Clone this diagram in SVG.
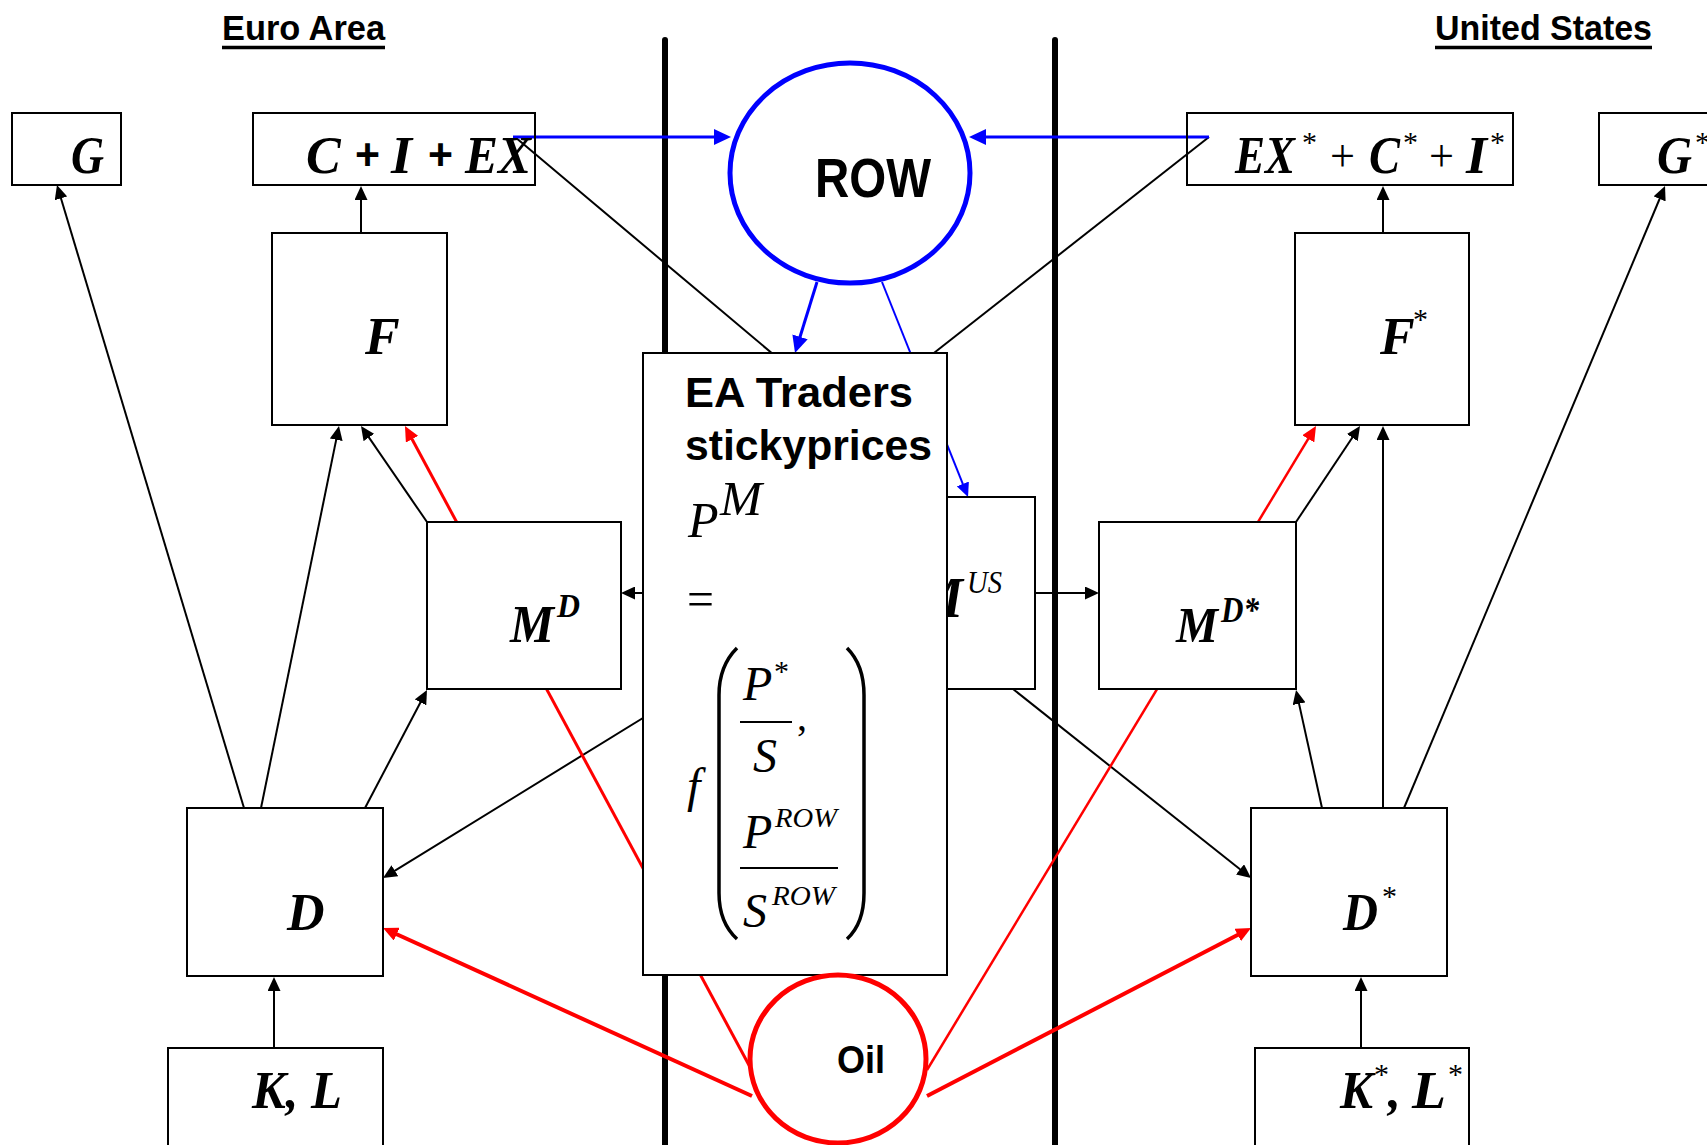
<svg xmlns="http://www.w3.org/2000/svg" width="1707" height="1145" viewBox="0 0 1707 1145">
<style>
.box{fill:#fff;stroke:#000;stroke-width:2}
.open{fill:none;stroke:#000;stroke-width:2}
.m{font-family:"Liberation Serif","Times New Roman",serif;font-weight:bold;font-style:italic;fill:#000}
.mi{font-family:"Liberation Serif","Times New Roman",serif;font-style:italic;fill:#000}
.r{font-family:"Liberation Serif","Times New Roman",serif;fill:#000}
.s{font-family:"Liberation Sans",Arial,sans-serif;font-weight:bold;fill:#000}
.k{stroke:#000;stroke-width:2;fill:none}
.b{stroke:#0000FF;fill:none}
.red{stroke:#FF0000;fill:none}
.sep{stroke:#000;stroke-width:6;stroke-linecap:round}
</style>
<defs>
<marker id="ak" markerUnits="userSpaceOnUse" markerWidth="14" markerHeight="13" refX="8" refY="6.5" orient="auto"><path d="M0,0 L14,6.5 L0,13 z" fill="#000"/></marker>
<marker id="abig" markerUnits="userSpaceOnUse" markerWidth="17" markerHeight="16" refX="11" refY="8" orient="auto"><path d="M0,0 L17,8 L0,16 z" fill="#0000FF"/></marker>
<marker id="ab" markerUnits="userSpaceOnUse" markerWidth="14" markerHeight="13" refX="8" refY="6.5" orient="auto"><path d="M0,0 L14,6.5 L0,13 z" fill="#0000FF"/></marker>
<marker id="ar" markerUnits="userSpaceOnUse" markerWidth="15" markerHeight="14" refX="9" refY="7" orient="auto"><path d="M0,0 L15,7 L0,14 z" fill="#FF0000"/></marker>
</defs>
<rect width="1707" height="1145" fill="#fff"/>

<g id="headings">
<text class="s" x="222" y="40" font-size="35" textLength="163" lengthAdjust="spacingAndGlyphs">Euro Area</text>
<line x1="222" y1="47.5" x2="385" y2="47.5" stroke="#000" stroke-width="3.5"/>
<text class="s" x="1435" y="40" font-size="35" textLength="217" lengthAdjust="spacingAndGlyphs">United States</text>
<line x1="1435" y1="47.5" x2="1652" y2="47.5" stroke="#000" stroke-width="3.5"/>
</g>

<g id="separators">
<line class="sep" x1="665" y1="40" x2="665" y2="1160"/>
<line class="sep" x1="1055" y1="40" x2="1055" y2="1160"/>
</g>

<g id="connectors">
<line class="k" x1="244" y1="808" x2="58.7" y2="190.7" marker-end="url(#ak)"/>
<line class="k" x1="261" y1="808" x2="337.8" y2="431.9" marker-end="url(#ak)"/>
<line class="k" x1="365" y1="808" x2="424.2" y2="695.3" marker-end="url(#ak)"/>
<line class="k" x1="427" y1="522" x2="364.4" y2="430.9" marker-end="url(#ak)"/>
<line class="k" x1="361" y1="233" x2="361" y2="192" stroke-width="3" marker-end="url(#ak)"/>
<line class="k" x1="274" y1="1048" x2="274" y2="983" marker-end="url(#ak)"/>
<line class="k" x1="660" y1="593" x2="627" y2="593" marker-end="url(#ak)"/>
<line class="k" x1="660" y1="707.5" x2="388.1" y2="874.9" marker-end="url(#ak)"/>
<line class="k" x1="1013" y1="689" x2="1246.3" y2="874.3" marker-end="url(#ak)"/>
<line class="k" x1="1035" y1="593" x2="1093" y2="593" marker-end="url(#ak)"/>
<line class="k" x1="1322" y1="808" x2="1297.3" y2="695.9" marker-end="url(#ak)"/>
<line class="k" x1="1383" y1="808" x2="1383" y2="432" marker-end="url(#ak)"/>
<line class="k" x1="1404" y1="808" x2="1662.7" y2="191.5" marker-end="url(#ak)"/>
<line class="k" x1="1296" y1="522" x2="1356.7" y2="431" marker-end="url(#ak)"/>
<line class="k" x1="1383" y1="233" x2="1383" y2="192" marker-end="url(#ak)"/>
<line class="k" x1="1361" y1="1048" x2="1361" y2="983" marker-end="url(#ak)"/>
<line class="k" x1="515" y1="137" x2="780" y2="360"/>
<line class="k" x1="1209" y1="137" x2="925" y2="360"/>
<line class="b" stroke-width="3" x1="513" y1="137" x2="725" y2="137" marker-end="url(#abig)"/>
<line class="b" stroke-width="3" x1="1209" y1="137" x2="975" y2="137" marker-end="url(#abig)"/>
<line class="b" stroke-width="3" x1="817" y1="282" x2="796.8" y2="347.3" marker-end="url(#abig)"/>
<line class="b" stroke-width="2" x1="882" y1="282" x2="965.8" y2="491.4" marker-end="url(#ab)"/>
<line class="red" stroke-width="4" x1="752" y1="1096" x2="388.5" y2="930.5" marker-end="url(#ar)"/>
<line class="red" stroke-width="4" x1="927" y1="1096" x2="1245.7" y2="930.8" marker-end="url(#ar)"/>
<line class="red" stroke-width="3" x1="750" y1="1067" x2="407.8" y2="431.3" marker-end="url(#ar)"/>
<line class="red" stroke-width="2.5" x1="927" y1="1070" x2="1312.9" y2="431.1" marker-end="url(#ar)"/>
</g>

<g id="node-G">
<rect class="open" x="12" y="113" width="109" height="72"/>
<text class="m" x="71" y="173" font-size="52" textLength="33" lengthAdjust="spacingAndGlyphs">G</text>
</g>
<g id="node-CIEX">
<rect class="open" x="253" y="113" width="282" height="72"/>
<text class="m" x="306" y="173" font-size="52">C</text>
<text class="s" x="355" y="170" font-size="44" textLength="25" lengthAdjust="spacingAndGlyphs">+</text>
<text class="m" x="391" y="173" font-size="52" textLength="21" lengthAdjust="spacingAndGlyphs">I</text>
<text class="s" x="428" y="170" font-size="44" textLength="25" lengthAdjust="spacingAndGlyphs">+</text>
<text class="m" x="465" y="173" font-size="52" textLength="66" lengthAdjust="spacingAndGlyphs">EX</text>
</g>
<g id="node-F">
<rect class="box" x="272" y="233" width="175" height="192"/>
<text class="m" x="365" y="354" font-size="52">F</text>
</g>
<g id="node-MD">
<rect class="box" x="427" y="522" width="194" height="167"/>
<text class="m" x="510" y="642" font-size="52" textLength="44" lengthAdjust="spacingAndGlyphs">M</text>
<text class="m" x="557" y="617" font-size="34" textLength="23" lengthAdjust="spacingAndGlyphs">D</text>
</g>
<g id="node-D">
<rect class="box" x="187" y="808" width="196" height="168"/>
<text class="m" x="287" y="930" font-size="52">D</text>
</g>
<g id="node-KL">
<rect class="open" x="168" y="1048" width="215" height="110"/>
<text class="m" x="252" y="1108" font-size="52" textLength="90" lengthAdjust="spacingAndGlyphs">K, L</text>
</g>

<g id="node-ROW">
<ellipse cx="850" cy="173" rx="120" ry="110" fill="#fff" stroke="#0000FF" stroke-width="5"/>
<text class="s" x="815" y="197" font-size="55" textLength="116" lengthAdjust="spacingAndGlyphs">ROW</text>
</g>

<g id="node-MUS">
<rect class="box" x="841" y="497" width="194" height="192"/>
<text class="m" x="916" y="617" font-size="56" textLength="47" lengthAdjust="spacingAndGlyphs">M</text>
<text class="mi" x="967" y="593" font-size="32" textLength="35" lengthAdjust="spacingAndGlyphs">US</text>
</g>

<g id="node-traders">
<rect class="box" x="643" y="353" width="304" height="622"/>
<text class="s" x="685" y="407" font-size="43" textLength="228" lengthAdjust="spacingAndGlyphs">EA Traders</text>
<text class="s" x="685" y="460" font-size="43" textLength="247" lengthAdjust="spacingAndGlyphs">stickyprices</text>
<text class="mi" x="688" y="537" font-size="50">P</text>
<text class="mi" x="720" y="515" font-size="48" textLength="42" lengthAdjust="spacingAndGlyphs">M</text>
<text class="r" x="687" y="616" font-size="50" textLength="27" lengthAdjust="spacingAndGlyphs">=</text>
<text class="mi" x="687" y="802" font-size="48">f</text>
<path d="M737,648 C725,660 719,675 719,695 L719,893 C719,913 725,928 737,939" fill="none" stroke="#000" stroke-width="3.5"/>
<path d="M847,648 C859,660 864,675 864,695 L864,893 C864,913 859,928 847,939" fill="none" stroke="#000" stroke-width="3.5"/>
<text class="mi" x="743" y="700" font-size="48">P</text>
<text class="r" x="774" y="681" font-size="30">*</text>
<line x1="740" y1="722" x2="792" y2="722" stroke="#000" stroke-width="2"/>
<text class="r" x="797" y="730" font-size="40">,</text>
<text class="mi" x="753" y="772" font-size="48">S</text>
<text class="mi" x="743" y="848" font-size="48">P</text>
<text class="mi" x="775" y="827" font-size="28" textLength="62" lengthAdjust="spacingAndGlyphs">ROW</text>
<line x1="740" y1="868" x2="838" y2="868" stroke="#000" stroke-width="2"/>
<text class="mi" x="743" y="927" font-size="48">S</text>
<text class="mi" x="772" y="905" font-size="28" textLength="63" lengthAdjust="spacingAndGlyphs">ROW</text>
</g>

<g id="node-Oil">
<ellipse cx="838" cy="1059" rx="88" ry="84" fill="#fff" stroke="#FF0000" stroke-width="5"/>
<text class="s" x="837" y="1073" font-size="38" textLength="48" lengthAdjust="spacingAndGlyphs">Oil</text>
</g>

<g id="node-EXCI-star">
<rect class="open" x="1187" y="113" width="326" height="72"/>
<text class="m" x="1235" y="173" font-size="52" textLength="60" lengthAdjust="spacingAndGlyphs">EX</text>
<text class="r" x="1302" y="152" font-size="30">*</text>
<text class="r" x="1330" y="171" font-size="46" textLength="25" lengthAdjust="spacingAndGlyphs">+</text>
<text class="m" x="1369" y="173" font-size="52" textLength="31" lengthAdjust="spacingAndGlyphs">C</text>
<text class="r" x="1403" y="152" font-size="30">*</text>
<text class="r" x="1429" y="171" font-size="46" textLength="25" lengthAdjust="spacingAndGlyphs">+</text>
<text class="m" x="1466" y="173" font-size="52" textLength="21" lengthAdjust="spacingAndGlyphs">I</text>
<text class="r" x="1490" y="152" font-size="30">*</text>
</g>
<g id="node-G-star">
<rect class="open" x="1599" y="113" width="120" height="72"/>
<text class="m" x="1657" y="173" font-size="52" textLength="35" lengthAdjust="spacingAndGlyphs">G</text>
<text class="r" x="1695" y="152" font-size="30">*</text>
</g>
<g id="node-F-star">
<rect class="box" x="1295" y="233" width="174" height="192"/>
<text class="m" x="1380" y="354" font-size="52">F</text>
<text class="r" x="1413" y="329" font-size="30">*</text>
</g>
<g id="node-MD-star">
<rect class="box" x="1099" y="522" width="197" height="167"/>
<text class="m" x="1176" y="642" font-size="50" textLength="42" lengthAdjust="spacingAndGlyphs">M</text>
<text class="m" x="1221" y="622" font-size="36" textLength="38" lengthAdjust="spacingAndGlyphs">D*</text>
</g>
<g id="node-D-star">
<rect class="box" x="1251" y="808" width="196" height="168"/>
<text class="m" x="1343" y="930" font-size="52" textLength="35" lengthAdjust="spacingAndGlyphs">D</text>
<text class="r" x="1382" y="906" font-size="30">*</text>
</g>
<g id="node-KL-star">
<rect class="open" x="1255" y="1048" width="214" height="110"/>
<text class="m" x="1340" y="1108" font-size="52" textLength="33" lengthAdjust="spacingAndGlyphs">K</text>
<text class="r" x="1374" y="1084" font-size="30">*</text>
<text class="m" x="1388" y="1108" font-size="52">,</text>
<text class="m" x="1412" y="1108" font-size="52" textLength="34" lengthAdjust="spacingAndGlyphs">L</text>
<text class="r" x="1448" y="1084" font-size="30">*</text>
</g>
</svg>
